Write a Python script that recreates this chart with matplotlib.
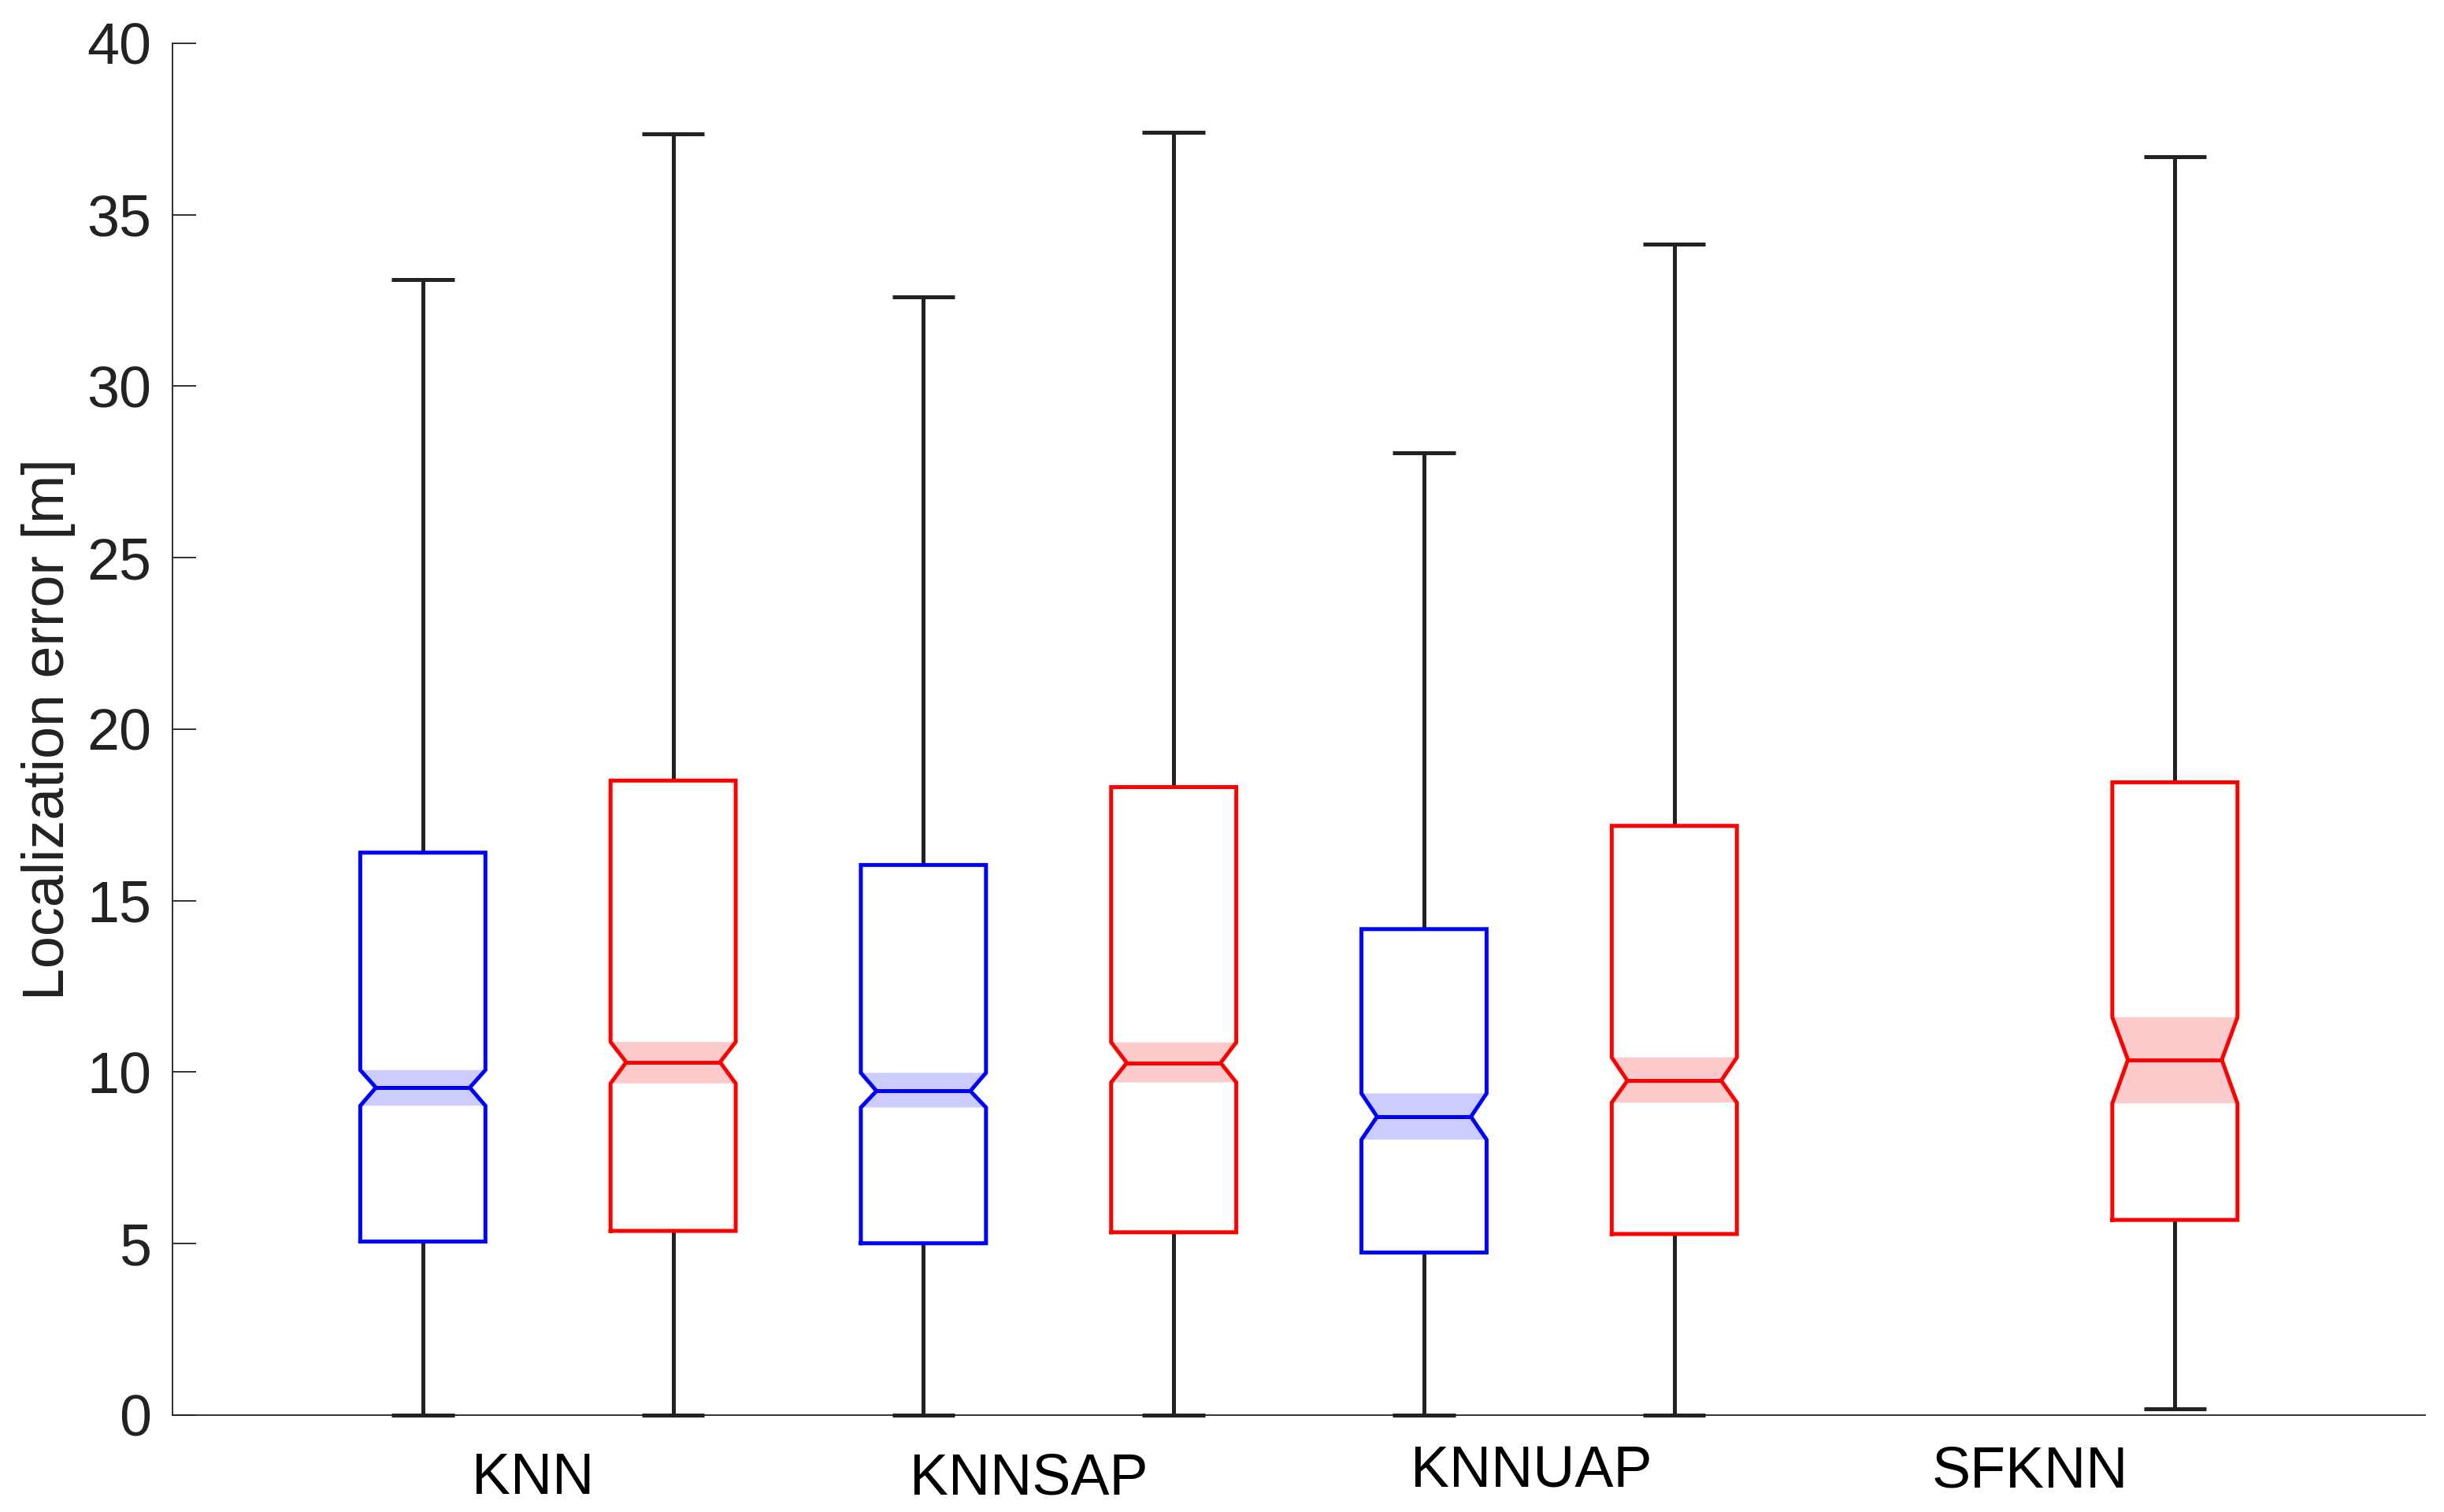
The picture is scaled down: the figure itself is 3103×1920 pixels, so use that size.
import matplotlib
matplotlib.use("Agg")
import matplotlib.pyplot as plt

# box statistics: whislo, q1, cilo, med, cihi, q3, whishi
methods = ["KNN", "KNNSAP", "KNNUAP", "SFKNN"]

blue_lo = [0.0, 0.0, 0.0, None]
blue_q1 = [5.06, 5.01, 4.74, None]
blue_cilo = [9.02, 8.97, 8.03, None]
blue_med = [9.55, 9.45, 8.70, None]
blue_cihi = [10.06, 9.98, 9.38, None]
blue_q3 = [16.40, 16.04, 14.17, None]
blue_hi = [33.10, 32.60, 28.05, None]

red_lo = [0.0, 0.0, 0.0, 0.18]
red_q1 = [5.37, 5.33, 5.28, 5.69]
red_cilo = [9.67, 9.70, 9.11, 9.09]
red_med = [10.29, 10.27, 9.75, 10.36]
red_cihi = [10.88, 10.87, 10.43, 11.60]
red_q3 = [18.50, 18.31, 17.18, 18.45]
red_hi = [37.35, 37.40, 34.15, 36.70]

yticks = [0, 5, 10, 15, 20, 25, 30, 35, 40]

# layout of the group labels (data x, data y of baseline)
label_x = [1.44, 3.42, 5.43, 7.42]
label_y = [-2.30, -2.32, -2.11, -2.11]

GREY = "#222222"
LW = 1.8
plt.rcParams["font.family"] = ["Liberation Sans", "DejaVu Sans"]
plt.rcParams["font.size"] = 26.5


def draw_box(ax, pos, lo, q1, cilo, med, cihi, q3, hi, edge, fill):
    w = 0.25      # half box width
    nw = 0.1875   # half width at the notch
    cw = 0.125    # half cap width
    l, r = pos - w, pos + w
    nl, nr = pos - nw, pos + nw
    # shaded notch
    ax.fill([l, nl, l, r, nr, r], [cilo, med, cihi, cihi, med, cilo],
            color=fill, lw=0, zorder=1)
    # whiskers and caps
    ax.vlines(pos, q3, hi, color=GREY, lw=LW, zorder=2)
    ax.vlines(pos, lo, q1, color=GREY, lw=LW, zorder=2)
    ax.hlines([lo, hi], pos - cw, pos + cw, color=GREY, lw=LW, zorder=3,
              clip_on=False)
    # notched outline
    ax.plot([l, r, r, nr, r, r, l, l, nl, l, l],
            [q1, q1, cilo, med, cihi, q3, q3, cihi, med, cilo, q1],
            color=edge, lw=LW, zorder=4, solid_joinstyle="miter")
    ax.plot([nl, nr], [med, med], color=edge, lw=LW, zorder=4)


fig = plt.figure(figsize=(15.515, 9.6), dpi=200)
ax = fig.add_axes([0.0706, 0.0641, 0.9217, 0.9073])

for i in range(len(methods)):
    if blue_med[i] is not None:
        draw_box(ax, 2 * i + 1, blue_lo[i], blue_q1[i], blue_cilo[i], blue_med[i],
                 blue_cihi[i], blue_q3[i], blue_hi[i], "#0000ff", "#ccccff")
    if red_med[i] is not None:
        draw_box(ax, 2 * i + 2, red_lo[i], red_q1[i], red_cilo[i], red_med[i],
                 red_cihi[i], red_q3[i], red_hi[i], "#ff0000", "#fccccc")

for name, x, y in zip(methods, label_x, label_y):
    ax.text(x, y, name, ha="center", va="baseline", color="black",
            clip_on=False)

ax.set_xlim(0, 9)
ax.set_ylim(0, 40)
ax.set_yticks(yticks)
ax.set_xticks([])
ax.spines["top"].set_visible(False)
ax.spines["right"].set_visible(False)
for s in ("left", "bottom"):
    ax.spines[s].set_linewidth(0.65)
    ax.spines[s].set_color(GREY)
ax.tick_params(axis="y", direction="in", length=10.8, width=0.65,
               color=GREY, labelcolor=GREY, pad=9.7)
ax.set_ylabel("Localization error [m]", color=GREY)
ax.yaxis.set_label_coords(-0.043, 0.5)

fig.savefig("out.png", dpi=200)
